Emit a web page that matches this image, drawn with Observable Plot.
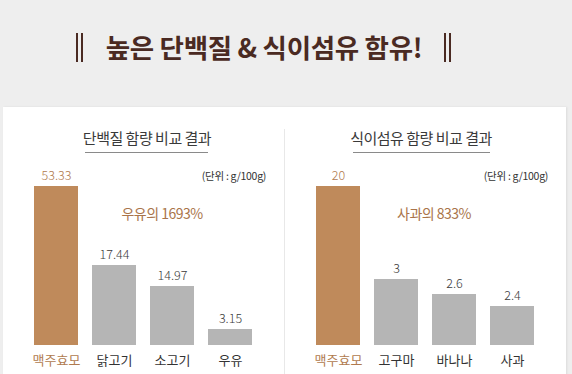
<!DOCTYPE html>
<html><head><meta charset="utf-8">
<script src="https://cdn.jsdelivr.net/npm/d3@7"></script>
<script src="https://cdn.jsdelivr.net/npm/@observablehq/plot@0.6"></script>
<style>
html,body{margin:0;padding:0;}
body{width:572px;height:374px;background:#eeeeee;position:relative;overflow:hidden;font-family:"Noto Sans CJK KR","Noto Sans",sans-serif;}
.abs{position:absolute;white-space:nowrap;}
#title{left:104px;width:320px;top:27px;text-align:center;font-size:26.5px;font-weight:700;color:#4a2a22;letter-spacing:-0.3px;line-height:40px;}
.dbar{position:absolute;top:33px;width:7px;height:29px;border-left:2px solid #4a2a22;border-right:2px solid #4a2a22;box-sizing:border-box;}
#card{left:3px;top:107px;width:563px;height:280px;background:#fff;box-shadow:1px 0 2px rgba(0,0,0,0.08);}
#divider{left:284px;top:129px;width:1px;height:260px;background:#e8e8e8;}
.sub{font-size:15px;color:#3a3a3a;text-align:center;line-height:20px;letter-spacing:-0.5px;}
.uline{height:1px;background:#8a8a8a;}
.unit{font-size:10.5px;color:#333;text-align:right;line-height:14px;letter-spacing:-0.3px;}
.ann{font-size:14px;color:#a9744a;text-align:center;line-height:18px;letter-spacing:-0.5px;}
.panel{position:absolute;top:107px;}
</style></head>
<body>
<div id="card" class="abs"></div>
<div id="divider" class="abs"></div>
<div id="title" class="abs">높은 단백질 &amp; 식이섬유 함유!</div>
<div class="dbar" style="left:76px"></div>
<div class="dbar" style="left:444px"></div>
<div class="abs sub" id="sub1"></div>
<div class="abs uline" style="left:85px;top:152px;width:123px"></div>
<div class="abs sub" id="sub2"></div>
<div class="abs uline" style="left:353px;top:152px;width:137px"></div>
<div class="abs unit" id="unit1"></div>
<div class="abs unit" id="unit2"></div>
<div class="abs ann" id="ann1"></div>
<div class="abs ann" id="ann2"></div>
<div class="panel" id="p1" style="left:3px"></div>
<div class="panel" id="p2" style="left:285px"></div>
<script>
// ---- data ----
const proteinTitle = "단백질 함량 비교 결과";
const proteinFoods = ["맥주효모", "닭고기", "소고기", "우유"];
const proteinValues = [53.33, 17.44, 14.97, 3.15];
const proteinNote = "우유의 1693%";

const fiberTitle = "식이섬유 함량 비교 결과";
const fiberFoods = ["맥주효모", "고구마", "바나나", "사과"];
const fiberValues = [20, 3, 2.6, 2.4];
const fiberNote = "사과의 833%";

const unitLabel = "(단위 : g/100g)";

// ---- text ----
function place(id, text, css) {
  const el = document.getElementById(id);
  el.textContent = text;
  Object.assign(el.style, css);
}
place("sub1", proteinTitle, {left: "47px", width: "200px", top: "128px"});
place("sub2", fiberTitle, {left: "321px", width: "200px", top: "128px"});
place("unit1", unitLabel, {left: "166px", width: "100px", top: "169px"});
place("unit2", unitLabel, {left: "448px", width: "100px", top: "169px"});
place("ann1", proteinNote, {left: "62px", width: "200px", top: "204px"});
place("ann2", fiberNote, {left: "334px", width: "200px", top: "204px"});

// ---- charts ----
const brown = "#bf8a5b", gray = "#b5b5b5", brownText = "#b07a4e";

function chart(foods, values, marginRight, shape) {
  const data = foods.map((f, i) => ({food: f, value: values[i], hero: i === 0}));
  const H = 267, mB = 29, bottom = H - mB;
  // designer's non-proportional (piecewise) value axis
  const sorted = [0, ...values.slice().sort((a, b) => a - b)];
  const range = sorted.map((v, i) => bottom - shape[i]);
  return Plot.plot({
    width: 281, height: H,
    marginLeft: 30, marginRight, marginTop: 0, marginBottom: mB,
    style: {background: "transparent", fontFamily: '"Noto Sans CJK KR", sans-serif', overflow: "visible"},
    x: {domain: foods, paddingInner: 0.25, paddingOuter: 0, axis: null},
    y: {type: "linear", domain: sorted, range, axis: null},
    color: {type: "identity"},
    marks: [
      Plot.barY(data, {x: "food", y: "value", fill: d => d.hero ? brown : gray}),
      Plot.text(data, {x: "food", y: "value", text: d => String(d.value), dy: -11,
        fill: d => d.hero ? brownText : "#3a3a3a", fontSize: 12.5, fontWeight: 300, lineAnchor: "middle"}),
      Plot.text(data, {x: "food", text: "food", frameAnchor: "bottom", dy: 15,
        fill: d => d.hero ? brownText : "#333", fontSize: 13, lineAnchor: "middle"})
    ]
  });
}
document.getElementById("p1").append(chart(proteinFoods, proteinValues, 31, [0, 16, 59, 80, 159]));
document.getElementById("p2").append(chart(fiberFoods, fiberValues, 32, [0, 39, 51, 66, 159]));
</script>
</body></html>
